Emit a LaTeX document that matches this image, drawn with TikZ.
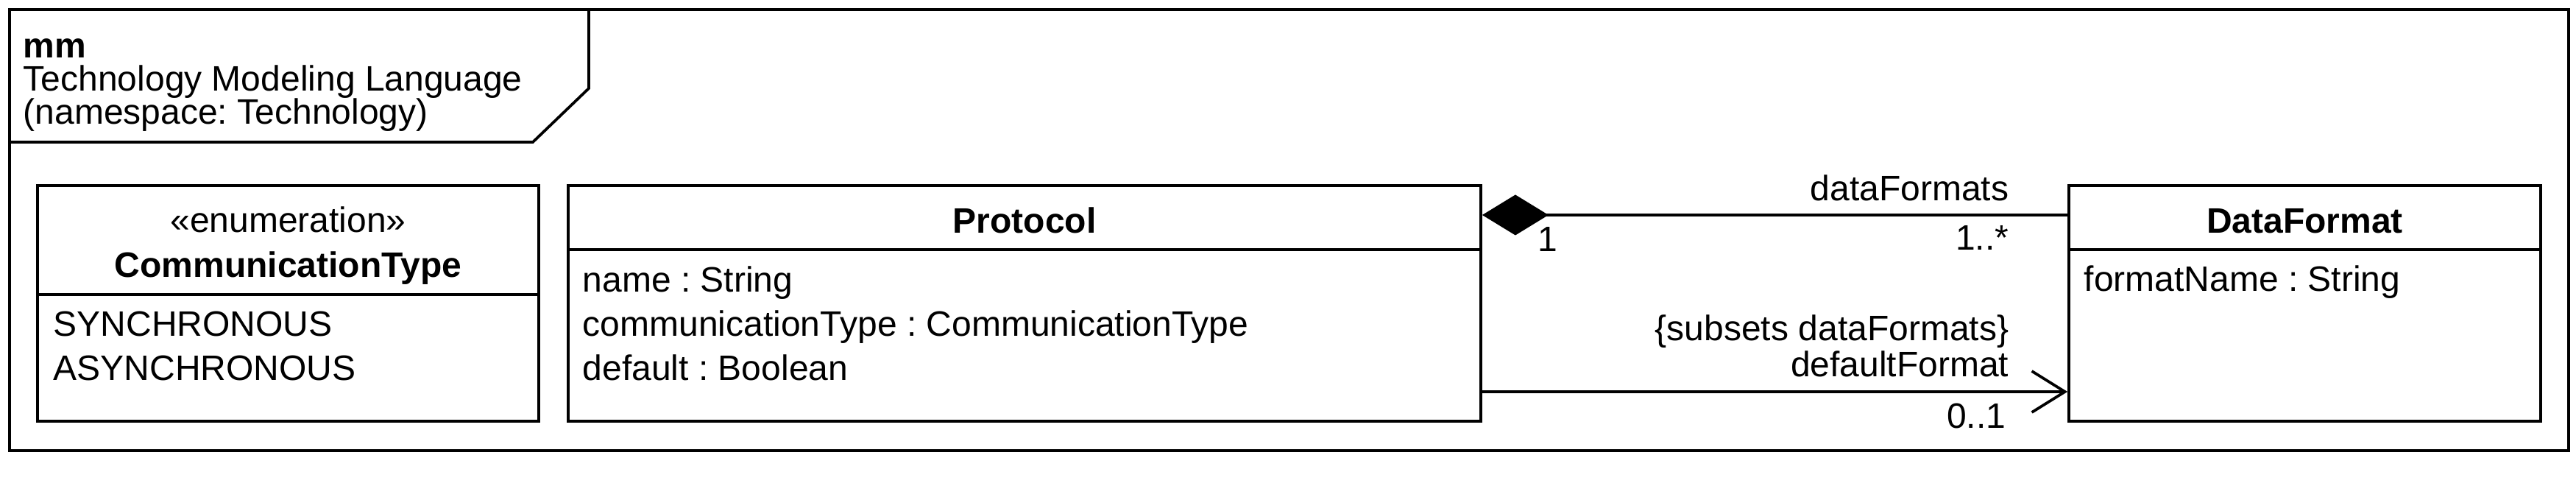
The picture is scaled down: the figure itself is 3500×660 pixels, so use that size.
\documentclass[tikz,border=0pt]{standalone}
\usepackage{fontspec}
\setmainfont{Liberation Sans}
\usetikzlibrary{arrows.meta}
\frenchspacing
\begin{document}
\begin{tikzpicture}[x=0.2pt,y=-0.2pt,line width=0.75pt,
  txtw/.style={inner sep=0pt,anchor=base west,font=\fontsize{9.6pt}{11pt}\selectfont},
  txte/.style={inner sep=0pt,anchor=base east,font=\fontsize{9.6pt}{11pt}\selectfont},
  txtc/.style={inner sep=0pt,anchor=base,font=\fontsize{9.6pt}{11pt}\selectfont},
  boldc/.style={txtc,font=\fontsize{9.6pt}{11pt}\selectfont\bfseries},
  classbox/.style={draw,inner sep=0pt,minimum height=64pt},
  comp/.style={{Diamond[length=18pt,width=11pt]}-},
  nav/.style={-{Straight Barb[length=9pt,width=11.2pt]}}]
\useasboundingbox (0,0) rectangle (3500,660);
% frame
\node[draw,inner sep=0pt,minimum width=695.4pt,minimum height=119.8pt] (frame) at (1751.5,312.5) {};
\draw (frame.west |- 0,193) -- (724,193) -- (800,120) -- (frame.north -| 800,0);
\node[txtw,font=\fontsize{9.6pt}{11pt}\selectfont\bfseries] (t1) at (30,79) {mm};
\node[txtw] (t2) at (30,124) {Technology Modeling Language};
\node[txtw] (t3) at (30,169) {(namespace: Technology)};
% CommunicationType
\node[classbox,minimum width=136.2pt] (ct) at (391.5,412) {};
\draw (ct.west |- 0,400) -- (ct.east |- 0,400);
\node[txtc] (ctst) at (391.5,316) {«enumeration»};
\node[boldc] (ctn) at (391.5,377) {CommunicationType};
\node[txtw] (ct1) at (71,457) {SYNCHRONOUS};
\node[txtw] (ct2) at (71,517) {ASYNCHRONOUS};
% Protocol
\node[classbox,minimum width=248pt] (pr) at (1392,412) {};
\draw (pr.west |- 0,339) -- (pr.east |- 0,339);
\node[boldc] (prn) at (1392,317) {Protocol};
\node[txtw] (pr1) at (790,397) {name : String};
\node[txtw] (pr2) at (790,457) {communicationType : CommunicationType};
\node[txtw] (pr3) at (790,517) {default : Boolean};
% DataFormat
\node[classbox,minimum width=128.2pt] (df) at (3131.5,412) {};
\draw (df.west |- 0,339) -- (df.east |- 0,339);
\node[boldc] (dfn) at (3131.5,317) {DataFormat};
\node[txtw] (df1) at (2830,396) {formatName : String};
% composition
\draw[comp] (pr.east |- 0,292) -- (df.west |- 0,292);
\node[txte] (l1) at (2731,273) {dataFormats};
\node[txte] (l2) at (2731,340) {1..*};
\node[txtw] (l3) at (2088,342) {1};
% navigable association
\draw[nav] (pr.east |- 0,532) -- (df.west |- 0,532);
\node[txte] (l4) at (2731,463) {\{subsets dataFormats\}};
\node[txte] (l5) at (2731,512) {defaultFormat};
\node[txte] (l6) at (2727,582) {0..1};
\end{tikzpicture}
\end{document}
